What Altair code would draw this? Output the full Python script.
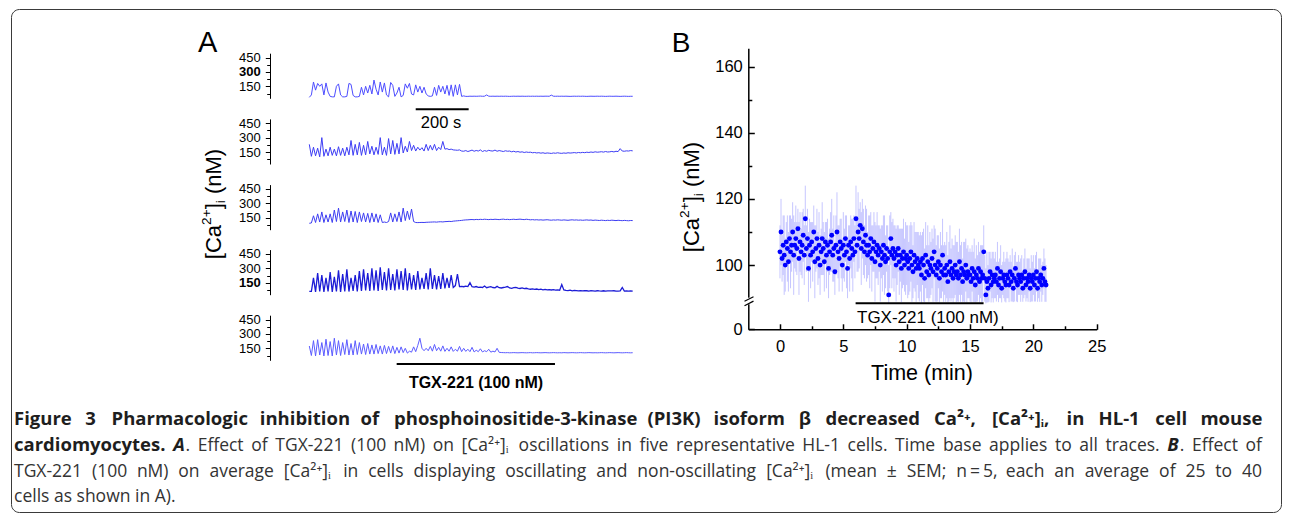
import altair as alt
import pandas as pd
import numpy as np

# ---------------- Panel A: five single-cell [Ca2+]i traces (nM), sampled every 8 s ----------------
trace_step_s = 8
trace1 = [35, 60, 195, 110, 180, 150, 175, 60, 185, 90,
          45, 40, 40, 150, 175, 60, 40, 40, 45, 180,
          170, 55, 40, 40, 45, 140, 60, 150, 80, 160,
          70, 215, 120, 60, 195, 90, 185, 60, 40, 190,
          160, 45, 80, 140, 40, 55, 175, 130, 180, 70,
          60, 165, 90, 150, 80, 140, 70, 50, 45, 50,
          140, 55, 160, 90, 150, 70, 160, 55, 165, 45,
          165, 60, 170, 45, 50, 45, 45, 47, 46, 47,
          46, 47, 48, 46, 47, 60, 47, 46, 47, 46,
          47, 46, 47, 46, 47, 46, 45, 46, 47, 46,
          47, 46, 47, 46, 46, 47, 46, 47, 46, 47,
          46, 47, 46, 47, 47, 46, 58, 47, 46, 47,
          46, 47, 46, 47, 46, 45, 46, 47, 46, 47,
          46, 47, 46, 45, 46, 47, 46, 46, 47, 46,
          47, 46, 45, 46, 47, 46, 46, 47, 46, 45,
          46, 47, 46, 45, 46, 46]
trace2 = [230, 105, 200, 110, 190, 100, 300, 105, 180, 110,
          200, 115, 180, 110, 205, 115, 190, 110, 200, 120,
          270, 115, 230, 120, 250, 115, 220, 120, 260, 130,
          210, 120, 200, 125, 300, 120, 200, 115, 290, 130,
          270, 125, 240, 130, 300, 140, 210, 150, 260, 165,
          220, 160, 200, 170, 195, 160, 230, 165, 220, 170,
          230, 165, 200, 175, 260, 180, 185, 175, 180, 172,
          170, 168, 172, 160, 158, 165, 155, 162, 170, 158,
          166, 160, 172, 155, 165, 158, 168, 162, 160, 170,
          158, 165, 160, 155, 163, 158, 160, 152, 158, 150,
          155, 148, 152, 145, 150, 146, 148, 142, 145, 140,
          143, 138, 142, 136, 140, 138, 135, 140, 137, 142,
          138, 136, 140, 137, 142, 139, 141, 144, 140, 145,
          142, 146, 143, 148, 145, 150, 146, 152, 148, 150,
          153, 149, 155, 150, 152, 156, 151, 158, 154, 185,
          160, 158, 162, 160, 165, 162]
trace3 = [92, 95, 170, 100, 190, 105, 210, 100, 180, 105,
          190, 100, 230, 110, 250, 105, 210, 110, 230, 100,
          220, 105, 215, 100, 210, 110, 200, 105, 195, 100,
          200, 105, 190, 100, 180, 100, 105, 100, 110, 200,
          105, 190, 110, 210, 105, 250, 120, 220, 130, 240,
          110, 100, 99, 100, 101, 100, 102, 103, 104, 105,
          106, 104, 107, 108, 106, 109, 110, 112, 110, 114,
          116, 118, 120, 122, 125, 127, 128, 130, 131, 129,
          132, 130, 133, 131, 134, 132, 130, 133, 131, 134,
          132, 130, 133, 135, 131, 133, 130, 132, 134, 131,
          133, 135, 132, 130, 134, 131, 128, 130, 127, 129,
          126, 128, 125, 127, 129, 126, 124, 127, 125, 128,
          126, 124, 127, 125, 123, 126, 128, 125, 127, 124,
          126, 123, 125, 127, 124, 126, 122, 125, 123, 121,
          124, 122, 120, 123, 121, 124, 122, 120, 123, 121,
          119, 122, 120, 118, 121, 120]
trace4 = [59, 60, 200, 55, 250, 60, 230, 55, 200, 60,
          260, 55, 210, 60, 280, 55, 240, 60, 290, 58,
          200, 65, 230, 60, 270, 65, 290, 70, 250, 65,
          300, 70, 280, 65, 310, 75, 260, 70, 300, 75,
          240, 70, 290, 80, 270, 75, 300, 70, 250, 80,
          230, 75, 270, 80, 200, 85, 250, 80, 300, 85,
          230, 80, 220, 85, 250, 90, 200, 95, 230, 100,
          120, 240, 110, 112, 108, 115, 110, 150, 108, 105,
          110, 102, 104, 100, 115, 98, 103, 108, 100, 96,
          112, 98, 95, 100, 104, 110, 95, 92, 98, 102,
          94, 90, 96, 88, 92, 85, 82, 86, 80, 84,
          78, 82, 76, 80, 75, 78, 74, 77, 73, 76,
          72, 130, 75, 70, 68, 72, 66, 70, 68, 65,
          67, 64, 68, 66, 63, 67, 65, 62, 66, 64,
          63, 66, 62, 65, 64, 64, 66, 63, 62, 65,
          100, 62, 65, 63, 64, 62]
trace5 = [174, 75, 230, 70, 240, 80, 210, 70, 245, 75,
          220, 70, 255, 80, 230, 75, 210, 85, 240, 80,
          200, 80, 230, 85, 210, 90, 195, 85, 200, 90,
          185, 90, 190, 95, 175, 90, 180, 95, 170, 100,
          175, 95, 160, 100, 165, 105, 150, 100, 120, 110,
          165, 115, 180, 255, 150, 125, 150, 125, 170, 120,
          190, 125, 160, 120, 175, 118, 150, 120, 165, 118,
          140, 120, 170, 115, 150, 118, 140, 115, 160, 112,
          130, 115, 145, 112, 125, 115, 140, 110, 120, 112,
          150, 108, 106, 105, 104, 105, 103, 104, 105, 104,
          103, 104, 105, 104, 103, 104, 105, 103, 104, 105,
          104, 103, 104, 105, 104, 103, 104, 105, 104, 103,
          104, 103, 105, 104, 103, 104, 105, 104, 103, 104,
          105, 104, 103, 104, 105, 104, 103, 104, 103, 104,
          105, 104, 103, 104, 105, 104, 103, 104, 105, 104,
          103, 104, 105, 104, 103, 104]
traces = [trace1, trace2, trace3, trace4, trace5]
trace_colors = ["#4d4dff", "#3d3df5", "#3d3df2", "#1c1cd6", "#5c5cff"]
trace_ticks = [75, 150, 225, 300, 375, 450]
bold_tick = [300, None, None, 150, None]
scale_bar_s = [408, 611]        # 200 s
tgx_a_s = [335, 942]            # TGX-221 application (s)

# ---------------- Panel B: mean +/- SEM [Ca2+]i (nM), one point every 5 s ----------------
b_step_min = 5 / 60
b_mean = [104, 110, 102, 106, 103, 100, 107, 105, 101, 108, 104, 106,
          110, 103, 106, 108, 105, 111, 102, 107, 104, 106, 109, 103,
          114, 105, 108, 99, 106, 103, 107, 104, 110, 101, 105, 108,
          102, 106, 100, 104, 108, 105, 101, 107, 103, 106, 99, 104,
          107, 109, 103, 105, 98, 106, 110, 104, 102, 107, 105, 100,
          106, 103, 108, 104, 99, 106, 102, 107, 105, 103, 108, 104,
          114, 106, 110, 108, 112, 105, 111, 107, 104, 109, 106, 103,
          106, 104, 108, 102, 105, 107, 101, 104, 106, 103, 105, 100,
          104, 102, 106, 103, 101, 105, 102, 91, 104, 108, 103, 105,
          102, 104, 100, 103, 105, 101, 103, 99, 102, 104, 100, 102,
          103, 101, 99, 102, 104, 100, 98, 103, 101, 99, 102, 100,
          99, 101, 97, 102, 100, 96, 103, 98, 101, 97, 100, 99,
          102, 98, 104, 100, 97, 99, 101, 96, 100, 98, 103, 97,
          99, 97, 100, 95, 98, 101, 97, 99, 96, 98, 100, 97,
          98, 96, 101, 97, 99, 95, 98, 97, 100, 96, 98, 97,
          97, 95, 99, 96, 98, 94, 97, 96, 99, 95, 98, 96,
          97, 104, 96, 91, 95, 93, 96, 98, 94, 97, 95, 96,
          97, 95, 99, 94, 96, 98, 93, 96, 97, 95, 94, 97,
          96, 94, 98, 95, 97, 93, 96, 99, 95, 94, 97, 96,
          95, 97, 93, 96, 98, 94, 96, 95, 97, 93, 96, 95,
          97, 94, 96, 98, 93, 96, 95, 97, 94, 96, 99, 95,
          94]
b_sem = [8, 10, 7, 9, 12, 8, 6, 10, 9, 7, 11, 8,
         9, 12, 7, 10, 8, 6, 11, 9, 7, 10, 8, 9,
         10, 7, 9, 11, 8, 10, 6, 9, 8, 11, 7, 9,
         8, 10, 9, 7, 11, 8, 9, 6, 10, 8, 9, 7,
         9, 11, 8, 10, 7, 9, 12, 8, 10, 7, 9, 8,
         10, 8, 7, 11, 9, 6, 10, 8, 9, 11, 7, 8,
         10, 8, 12, 9, 7, 11, 9, 10, 8, 9, 11, 7,
         9, 11, 8, 10, 7, 9, 12, 8, 10, 9, 7, 11,
         8, 10, 9, 12, 8, 7, 10, 9, 11, 8, 10, 9,
         10, 8, 11, 9, 7, 10, 8, 12, 9, 10, 8, 11,
         9, 11, 8, 10, 9, 12, 8, 10, 9, 11, 8, 10,
         10, 9, 12, 8, 11, 9, 10, 8, 11, 9, 10, 8,
         9, 10, 8, 11, 9, 10, 8, 9, 10, 8, 11, 9,
         8, 9, 10, 8, 9, 11, 8, 9, 10, 8, 9, 10,
         9, 8, 10, 9, 8, 7, 9, 10, 8, 9, 8, 7,
         8, 9, 7, 8, 10, 8, 9, 7, 8, 9, 8, 10,
         9, 8, 7, 8, 9, 7, 8, 6, 8, 7, 9, 6,
         7, 6, 8, 7, 6, 8, 7, 5, 7, 6, 8, 7,
         6, 7, 5, 6, 8, 6, 7, 5, 6, 7, 6, 5,
         7, 6, 5, 6, 7, 5, 6, 7, 5, 6, 7, 6,
         6, 5, 7, 6, 5, 6, 7, 5, 6, 5, 6, 7,
         6]
tgx_b_min = [5.97, 16.07]
b_x_ticks = [0, 2.5, 5, 7.5, 10, 12.5, 15, 17.5, 20, 22.5, 25]
b_x_labels = [0, 5, 10, 15, 20, 25]
b_y_ticks = [0, 100, 110, 120, 130, 140, 150, 160]
b_y_labels = [0, 100, 120, 140, 160]

# ---------------- caption (word tokens; runs of (text, style)) ----------------
SUP = "\u00b2\u207a"
SUB_I = "\u1d62"
caption_line1 = ("Figure 3 Pharmacologic inhibition of phosphoinositide-3-kinase (PI3K) isoform \u03b2 "
                 f"decreased Ca{SUP}, [Ca{SUP}]{SUB_I}, in HL-1 cell mouse").split(" ")
caption_line2 = ([[("cardiomyocytes.", "b"), (" ", "b")], [("A", "bi"), (".", "r")]]
                 + [[(w, "r")] for w in (f"Effect of TGX-221 (100 nM) on [Ca{SUP}]{SUB_I} oscillations in five "
                                         "representative HL-1 cells. Time base applies to all traces.").split(" ")]
                 + [[("B", "bi"), (".", "r")], [("Effect", "r")], [("of", "r")]])
caption_line3 = (f"TGX-221 (100 nM) on average [Ca{SUP}]{SUB_I} in cells displaying oscillating and "
                 f"non-oscillating [Ca{SUP}]{SUB_I} (mean \u00b1 SEM; n\u2009=\u20095, each an average of 25 to 40").split(" ")
caption_line4 = "cells as shown in A)."

# ---------------- layout ----------------
W, H = 1270, 503
FONT = "Liberation Sans"
CAP_FONT = "Open Sans"
one = pd.DataFrame({"a": [0]})


def txt(s, x, y, size, weight="normal", style="normal", align="left", angle=0,
        font=FONT, baseline="alphabetic", color="black"):
    return alt.Chart(one).mark_text(
        text=s, fontSize=size, fontWeight=weight, fontStyle=style, align=align,
        angle=angle, font=font, baseline=baseline, color=color
    ).encode(x=alt.value(x), y=alt.value(y))


def ca_title(cx, cy, fs):
    small = fs * 0.62
    # (text, size, perpendicular shift, advance before, advance width in em)
    parts = [("[Ca", fs, 0.0, 0.0, 0.278 + 0.722 + 0.556),
             ("2+", small, -0.45 * fs, 0.0, 0.556 + 0.584),
             ("]", fs, 0.0, 0.0, 0.278),
             ("i", small, 0.2 * fs, 0.0, 0.222),
             ("(nM)", fs, 0.0, 0.278 * fs, 0.333 + 0.556 + 0.833 + 0.333)]
    total = sum(p[1] * p[4] + p[3] for p in parts)
    y = cy + total / 2
    x0 = cx + 0.36 * fs
    out = []
    for s, size, dx, pre, w in parts:
        y -= pre
        out.append(txt(s, x0 + dx, y, size, angle=270))
        y -= size * w
    return out


# approximate Open Sans advance widths (em)
OS_W = {" ": .26, "(": .282, ")": .282, ",": .245, "-": .322, ".": .266, ";": .266, "=": .572,
        "[": .329, "]": .329, "\u00b1": .572, "\u03b2": .6, "\u00b2": .36, "\u207a": .42, "\u1d62": .2,
        "\u2009": .13,
        "A": .633, "B": .648, "C": .631, "D": .729, "E": .556, "F": .516, "G": .728, "H": .738,
        "I": .279, "K": .614, "L": .519, "M": .903, "N": .754, "O": .779, "P": .602, "R": .618,
        "S": .549, "T": .553, "X": .577,
        "a": .556, "b": .613, "c": .476, "d": .613, "e": .561, "f": .339, "g": .548, "h": .614,
        "i": .253, "k": .525, "l": .253, "m": .930, "n": .614, "o": .604, "p": .613, "r": .408,
        "s": .477, "t": .353, "u": .614, "v": .501, "w": .778, "x": .524, "y": .502}
CAP_FS = {"r": 17.5, "b": 18.5, "bi": 18.5}


def w_est(s, st):
    f = 1.0 if st == "r" else 1.045
    return sum(OS_W.get(ch, .572) for ch in s) * CAP_FS[st] * f


def layout_line(tokens, y, left, right):
    toks = [t if isinstance(t, list) else [(t, None)] for t in tokens]
    widths = [sum(w_est(s, st) for s, st in tok) for tok in toks]
    gap = (right - left - sum(widths)) / (len(toks) - 1)
    rows, x = [], left
    for tok, w in zip(toks, widths):
        xx = x
        for s, st in tok:
            if s.strip():
                rows.append({"text": s, "x": xx, "y": y, "st": st})
            xx += w_est(s, st)
        x += w + gap
    return rows


CAP_L, CAP_R = 3, 1251
rows = []
rows += layout_line([[(w, "b")] for w in caption_line1], 416, CAP_L, CAP_R)
rows += layout_line(caption_line2, 442, CAP_L, CAP_R)
rows += layout_line([[(w, "r")] for w in caption_line3], 468, CAP_L, CAP_R)
rows += [{"text": caption_line4, "x": CAP_L, "y": 493, "st": "r"}]
cap_df = pd.DataFrame(rows)
cap_styles = {"r": dict(fontWeight="normal", fontStyle="normal", color="#333333"),
              "b": dict(fontWeight="bold", fontStyle="normal", color="#1e1e1e"),
              "bi": dict(fontWeight="bold", fontStyle="italic", color="#1e1e1e")}
cap_layers = []
for st, sty in cap_styles.items():
    cap_layers.append(
        alt.Chart(cap_df[cap_df.st == st]).mark_text(
            font=CAP_FONT, fontSize=CAP_FS[st], align="left", baseline="alphabetic", **sty
        ).encode(x=alt.X("x:Q", scale=None, axis=None), y=alt.Y("y:Q", scale=None, axis=None), text="text:N")
    )

# Panel A
xA = alt.Scale(domain=[0, 1240], range=[298.3, 621.7], nice=False, zero=False)
A_Y150 = [77.3, 143.0, 208.7, 273.7, 339.3]
a_layers = []
for k, vals in enumerate(traces):
    df = pd.DataFrame({"t": np.arange(len(vals)) * trace_step_s, "v": vals})
    y150 = A_Y150[k]
    axis_kw = dict(
        orient="left", offset=-259, values=trace_ticks, title=None, grid=False,
        labelExpr="datum.value % 150 === 0 ? datum.label : ''",
        tickSize={"condition": {"test": "datum.value % 150 === 0", "value": 4.7}, "value": 3.3},
        labelFont=FONT, labelFontSize=13, labelColor="black", labelPadding=5,
        domainColor="black", tickColor="black", domainWidth=1, tickWidth=1,
        labelOverlap=False, labelFlush=False, labelBound=False,
    )
    if bold_tick[k] is not None:
        axis_kw["labelFontWeight"] = {"condition": {"test": f"datum.value === {bold_tick[k]}", "value": "bold"},
                                      "value": "normal"}
    a_layers.append(
        alt.Chart(df).mark_line(color=trace_colors[k], strokeWidth=1.3 if k == 3 else 1.0).encode(
            x=alt.X("t:Q", scale=xA, axis=None),
            y=alt.Y("v:Q", scale=alt.Scale(domain=[25, 495], range=[y150 + 12.0, y150 - 33.1],
                                           nice=False, zero=False),
                    axis=alt.Axis(**axis_kw)),
        )
    )
a_layers.append(alt.Chart(pd.DataFrame({"t0": [scale_bar_s[0]], "t1": [scale_bar_s[1]]})).mark_rule(
    color="black", strokeWidth=2).encode(x=alt.X("t0:Q", scale=xA, axis=None), x2="t1:Q", y=alt.value(100.3)))
a_layers.append(alt.Chart(pd.DataFrame({"t0": [tgx_a_s[0]], "t1": [tgx_a_s[1]]})).mark_rule(
    color="black", strokeWidth=2).encode(x=alt.X("t0:Q", scale=xA, axis=None), x2="t1:Q", y=alt.value(355)))
panel_a = alt.layer(*a_layers).resolve_scale(y="independent").resolve_axis(y="independent")

# Panel B
bdf = pd.DataFrame({"t": np.arange(len(b_mean)) * b_step_min, "m": b_mean, "s": b_sem})
bdf["lo"] = bdf["m"] - bdf["s"]
bdf["hi"] = bdf["m"] + bdf["s"]
XB_POS, YB_POS = 737.3, 320.3
xB = alt.Scale(domain=[-2.5, 25], range=[XB_POS, 1085.7], nice=False, zero=False)
yB = alt.Scale(domain=[0, 89, 165.5], range=[YB_POS, 292.5, 39.3], nice=False, zero=False)
common_b = dict(title=None, grid=False, domainColor="black", tickColor="black", domainWidth=1.5,
                tickWidth=1.5, labelFont=FONT, labelFontSize=16.5, labelColor="black",
                labelOverlap=False, labelFlush=False, labelBound=False)
# tick-only axes pointing into the plot
x_tick_axis = alt.Axis(orient="top", offset=-YB_POS, values=b_x_ticks, labels=False, domain=False, ticks=True,
                       tickSize={"condition": {"test": "datum.value % 5 === 0", "value": 5.5}, "value": 3.5},
                       **common_b)
y_tick_axis = alt.Axis(orient="right", offset=XB_POS - W, values=b_y_ticks, labels=False, domain=False, ticks=True,
                       tickSize={"condition": {"test": "datum.value % 20 === 0", "value": 6}, "value": 3.5},
                       **common_b)
# label + domain axes
x_lab_axis = alt.Axis(orient="bottom", offset=YB_POS - H, values=b_x_labels, ticks=False, domain=True,
                      labelPadding=9.5, **common_b)
y_lab_axis = alt.Axis(orient="left", offset=-XB_POS, values=b_y_labels, ticks=False, domain=True,
                      labelPadding=6, **common_b)
err = alt.Chart(bdf).mark_rule(color="#9090ff", opacity=0.5, strokeWidth=1).encode(
    x=alt.X("t:Q", scale=xB, axis=x_tick_axis), y=alt.Y("lo:Q", scale=yB, axis=y_tick_axis), y2="hi:Q")
pts = alt.Chart(bdf).mark_circle(size=24, color="#0000ff", opacity=1).encode(
    x=alt.X("t:Q", scale=xB, axis=x_lab_axis), y=alt.Y("m:Q", scale=yB, axis=y_lab_axis))
tgx_b = alt.Chart(pd.DataFrame({"t0": [tgx_b_min[0]], "t1": [tgx_b_min[1]]})).mark_rule(
    color="black", strokeWidth=2).encode(x=alt.X("t0:Q", scale=xB, axis=None), x2="t1:Q", y=alt.value(294.3))
panel_b = alt.layer(err, pts, tgx_b).resolve_axis(x="independent", y="independent")

# axis break decoration on panel B y axis
brk_mask = alt.Chart(one).mark_rect(color="white").encode(
    x=alt.value(733), x2=alt.value(742), y=alt.value(288.7), y2=alt.value(295.3))
brk1 = alt.Chart(one).mark_rule(color="black", strokeWidth=1.2).encode(
    x=alt.value(733.5), x2=alt.value(742.5), y=alt.value(292.3), y2=alt.value(287.7))
brk2 = alt.Chart(one).mark_rule(color="black", strokeWidth=1.2).encode(
    x=alt.value(733.5), x2=alt.value(742.5), y=alt.value(296.7), y2=alt.value(292.1))

texts = [
    txt("A", 187, 43, 29),
    txt("B", 660.7, 42.7, 28),
    txt("200 s", 430, 119.3, 16.5, align="center"),
    txt("TGX-221 (100 nM)", 465, 379.3, 16, weight="bold", align="center"),
    txt("TGX-221 (100 nM)", 846, 314, 17),
    txt("Time (min)", 911, 371, 21.5, align="center"),
] + ca_title(202, 195, 22) + ca_title(680, 188, 22)

chart = alt.layer(panel_a, panel_b, brk_mask, brk1, brk2, *texts, *cap_layers).resolve_scale(
    x="independent", y="independent").resolve_axis(x="independent", y="independent").properties(
    width=W, height=H, padding={"left": 3, "top": 1, "right": 1, "bottom": 1},
    autosize=alt.AutoSizeParams(type="none"), background="white"
).configure_view(stroke="#3a3a3a", strokeWidth=1, cornerRadius=8)

chart.save("out.html", embed_options={"renderer": "svg", "actions": False})
